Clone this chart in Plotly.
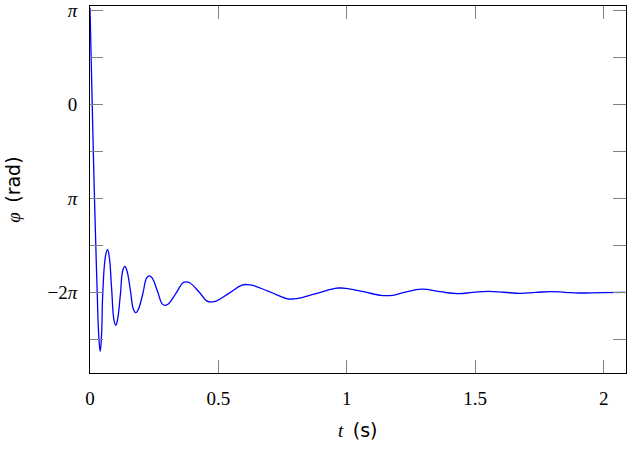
import numpy as np
import plotly.graph_objects as go

PI = np.pi

# time (s) and angle (in units of pi)
t_vals = [0.0, 0.0086, 0.0175, 0.0226, 0.028, 0.034, 0.0398, 0.045, 0.0499,
          0.061, 0.0682, 0.075, 0.084, 0.094, 0.1005, 0.107, 0.118, 0.128,
          0.1356, 0.143, 0.157, 0.17, 0.1785, 0.187, 0.205, 0.221, 0.2307,
          0.241, 0.262, 0.282, 0.2931, 0.305, 0.334, 0.362, 0.3749, 0.388,
          0.424, 0.456, 0.4735, 0.491, 0.542, 0.592, 0.611, 0.63, 0.698,
          0.765, 0.7853, 0.806, 0.88, 0.954, 0.9743, 0.995, 1.064, 1.134,
          1.1543, 1.175, 1.223, 1.292, 1.362, 1.432, 1.49, 1.549, 1.612, 1.674,
          1.735, 1.795, 1.85, 1.904, 1.99, 2.083]
phi_over_pi = [1.03, 0.003, -1.0, -1.497, -1.997, -2.45, -2.624, -2.45, -1.997,
               -1.6, -1.543, -1.62, -1.95, -2.30, -2.348, -2.29, -2.03, -1.76,
               -1.720, -1.76, -1.97, -2.185, -2.213, -2.185, -2.02, -1.84, -1.821,
               -1.84, -1.98, -2.122, -2.135, -2.122, -2.01, -1.895, -1.885, -1.895,
               -1.99, -2.09, -2.098, -2.09, -2.005, -1.92, -1.914, -1.92, -1.99,
               -2.063, -2.068, -2.063, -2.01, -1.954, -1.951, -1.954, -1.99, -2.030,
               -2.032, -2.030, -1.998, -1.963, -1.99, -2.010, -1.998, -1.986,
               -1.996, -2.007, -1.998, -1.989, -1.997, -2.004, -1.999, -1.997]

phi = [v * PI for v in phi_over_pi]

x_ticks = [0, 0.5, 1, 1.5, 2]
x_labels = ["0", "0.5", "1", "1.5", "2"]
y_ticks_pi = [1, 0.5, 0, -0.5, -1, -1.5, -2, -2.5]
y_labels = ["<i>π</i>", "", "0", "", "<i>π</i>", "", "−2<i>π</i>", ""]

fig = go.Figure()
fig.add_trace(go.Scatter(
    x=t_vals, y=phi, mode="lines",
    line=dict(color="#0000ff", width=1.3, shape="spline", smoothing=1.3),
    showlegend=False, hoverinfo="skip"))

serif = "Liberation Serif"

fig.update_layout(
    width=632, height=475,
    margin=dict(l=90, r=6, t=6, b=102),
    plot_bgcolor="white", paper_bgcolor="white",
    font=dict(family=serif, size=19, color="black"),
    xaxis=dict(
        range=[0, 2.087], tickvals=x_ticks, ticktext=x_labels,
        ticks="inside", ticklen=13, tickcolor="#808080", tickwidth=1,
        showline=True, linecolor="black", linewidth=1, mirror="ticks",
        showgrid=False, zeroline=False, automargin=False,
        ticklabelstandoff=8,
    ),
    yaxis=dict(
        range=[-2.855 * PI, 1.049 * PI],
        tickvals=[v * PI for v in y_ticks_pi], ticktext=y_labels,
        ticks="inside", ticklen=13, tickcolor="#808080", tickwidth=1,
        showline=True, linecolor="black", linewidth=1, mirror="ticks",
        showgrid=False, zeroline=False, automargin=False,
        ticklabelstandoff=8,
    ),
    annotations=[
        dict(text="<i>t</i>  <span style='font-family:DejaVu Sans'>(s)</span>",
             xref="paper", yref="paper", x=0.5, y=-0.155, showarrow=False,
             xanchor="center", yanchor="middle", font=dict(size=19, family=serif)),
        dict(text="<i>φ</i>  <span style='font-family:DejaVu Sans'>(rad)</span>",
             xref="paper", yref="paper", x=-0.145, y=0.5, showarrow=False,
             textangle=-90, xanchor="center", yanchor="middle",
             font=dict(size=19, family=serif)),
    ],
)

fig.write_html("out.html", config={"displayModeBar": False})

# remove the default page margin so the figure sits at the window origin
with open("out.html", "r", encoding="utf-8") as f:
    html = f.read()
html = html.replace("<head>", "<head><style>html,body{margin:0;padding:0;}</style>", 1)
with open("out.html", "w", encoding="utf-8") as f:
    f.write(html)
